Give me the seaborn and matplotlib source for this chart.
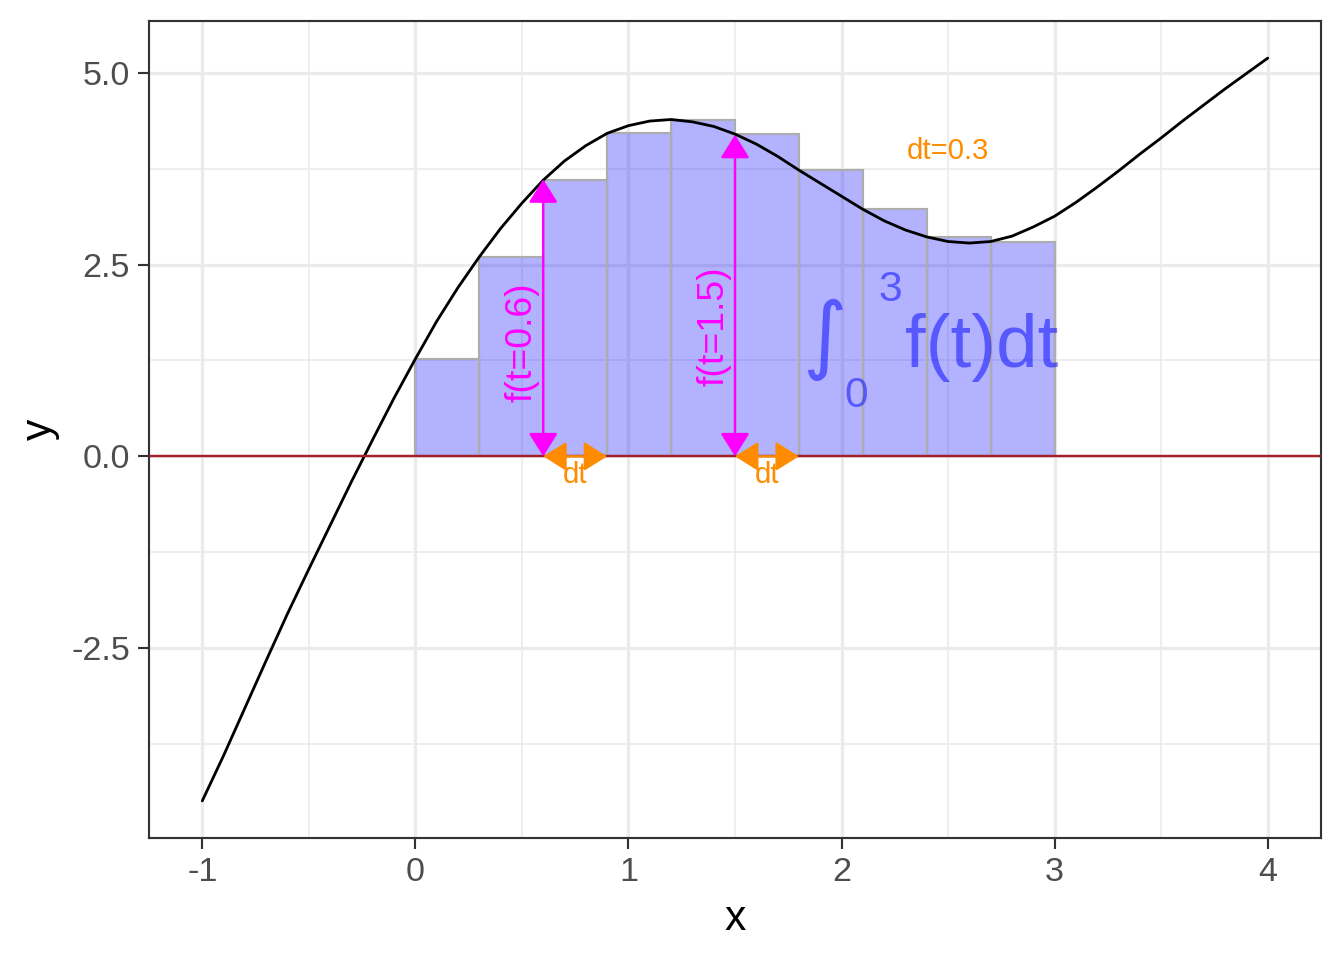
#Riemann sum sketch: left rectangles under f(t) from 0 to 3, dt=0.3

import numpy as np
import pandas as pd
import matplotlib
matplotlib.use("Agg")
import matplotlib.pyplot as plt
from matplotlib.patches import FancyArrowPatch
from matplotlib.ticker import MultipleLocator
import seaborn as sns

#curve
curve_x = [-1.0, -0.9, -0.8, -0.7, -0.6, -0.5, -0.4, -0.3, -0.2, -0.1,
           0.0, 0.1, 0.2, 0.3, 0.4, 0.5, 0.6, 0.7, 0.8, 0.9,
           1.0, 1.1, 1.2, 1.3, 1.4, 1.5, 1.6, 1.7, 1.8, 1.9,
           2.0, 2.1, 2.2, 2.3, 2.4, 2.5, 2.6, 2.7, 2.8, 2.9,
           3.0, 3.1, 3.2, 3.3, 3.4, 3.5, 3.6, 3.7, 3.8, 3.9, 4.0]
curve_y = [-4.49, -3.90, -3.28, -2.66, -2.05, -1.47, -0.90, -0.33, 0.22, 0.76,
           1.27, 1.76, 2.20, 2.60, 2.97, 3.30, 3.60, 3.85, 4.05, 4.21,
           4.31, 4.37, 4.39, 4.36, 4.30, 4.20, 4.07, 3.91, 3.73, 3.56,
           3.39, 3.22, 3.07, 2.95, 2.86, 2.80, 2.78, 2.80, 2.87, 2.99,
           3.13, 3.31, 3.51, 3.72, 3.94, 4.15, 4.37, 4.58, 4.79, 4.99, 5.19]

#rectangles (left edge, height)
dt = 0.3
rect_left = [0.0, 0.3, 0.6, 0.9, 1.2, 1.5, 1.8, 2.1, 2.4, 2.7]
rect_height = [1.27, 2.60, 3.60, 4.21, 4.39, 4.20, 3.73, 3.22, 2.86, 2.80]

#marked points
arrow_t = [0.6, 1.5]
arrow_f = [3.61, 4.19]
arrow_labels = ['f(t=0.6)', 'f(t=1.5)']

x_ticks = [-1, 0, 1, 2, 3, 4]
y_ticks = [-2.5, 0.0, 2.5, 5.0]
y_tick_labels = ['-2.5', '0.0', '2.5', '5.0']

sns.set_theme(style="whitegrid")
plt.rcParams['font.family'] = ['Liberation Sans', 'DejaVu Sans']

fig = plt.figure(figsize=(7, 5), dpi=192)
ax = fig.add_axes([149/1344, 1-838/960, (1321-149)/1344, (838-21)/960])

ax.bar(rect_left, rect_height, width=dt, align='edge', color=(0, 0, 1, 0.3),
       edgecolor='#ADADAD', linewidth=0.8, zorder=2)

df = pd.DataFrame({'x': curve_x, 'y': curve_y})
sns.lineplot(data=df, x='x', y='y', color='black', linewidth=1.05, ax=ax, zorder=3)
ax.axhline(0, color='#A3202A', linewidth=0.9, zorder=3)

#f(t) arrows
magenta = '#FF00FF'
for t, ft, lab in zip(arrow_t, arrow_f, arrow_labels):
    ax.add_patch(FancyArrowPatch((t, 0), (t, ft), arrowstyle='<|-|>,head_length=7.5,head_width=4.7',
                                 mutation_scale=1, shrinkA=0, shrinkB=0, color=magenta,
                                 linewidth=0.9, zorder=4))
ax.text(0.50, 1.49, arrow_labels[0], rotation=90, color=magenta, fontsize=14,
        ha='center', va='center', zorder=5)
ax.text(1.40, 1.69, arrow_labels[1], rotation=90, color=magenta, fontsize=14,
        ha='center', va='center', zorder=5)

#dt arrows
orange = '#FF8C00'
for t in arrow_t:
    ax.add_patch(FancyArrowPatch((t, 0), (t + dt, 0), arrowstyle='<|-|>,head_length=7.5,head_width=4.7',
                                 mutation_scale=1, shrinkA=0, shrinkB=0, color=orange,
                                 linewidth=0.9, zorder=6))
    ax.text(t + dt/2, -0.24, 'dt', color=orange, fontsize=11, ha='center', va='center', zorder=6)
ax.text(2.5, 3.98, 'dt=0.3', color=orange, fontsize=11, ha='center', va='center', zorder=6)

#integral label
blue_txt = (0, 0, 1, 0.5)
ax.text(1.92, 1.52, '\u222b', color=blue_txt, fontsize=32, ha='center', va='center',
        family='DejaVu Sans', zorder=5)
ax.text(2.227, 2.17, '3', color=blue_txt, fontsize=16, ha='center', va='center', zorder=5)
ax.text(2.07, 0.79, '0', color=blue_txt, fontsize=16, ha='center', va='center', zorder=5)
ax.text(2.297, 1.17, 'f(t)dt', color=blue_txt, fontsize=28, ha='left', va='baseline', zorder=5)

#axes like theme_bw
ax.set_xlim(-1.25, 4.25)
ax.set_ylim(-4.974, 5.674)
ax.set_xticks(x_ticks)
ax.set_xticklabels([str(v) for v in x_ticks])
ax.set_yticks(y_ticks)
ax.set_yticklabels(y_tick_labels)
ax.xaxis.set_minor_locator(MultipleLocator(0.5))
ax.yaxis.set_minor_locator(MultipleLocator(1.25))
ax.set_axisbelow(True)
ax.grid(which='major', color='#EBEBEB', linewidth=1.2)
ax.grid(which='minor', color='#EBEBEB', linewidth=0.6)
ax.tick_params(which='major', length=4, width=0.8, color='#333333', labelsize=12.8,
               labelcolor='#4D4D4D', pad=3.2, bottom=True, left=True)
ax.tick_params(which='minor', length=0)
for s in ax.spines.values():
    s.set_color('#333333')
    s.set_linewidth(0.8)
ax.set_xlabel('x', fontsize=16, color='black', labelpad=4)
ax.set_ylabel('y', fontsize=16, color='black', labelpad=4)

plt.savefig('out.png', dpi=192)
